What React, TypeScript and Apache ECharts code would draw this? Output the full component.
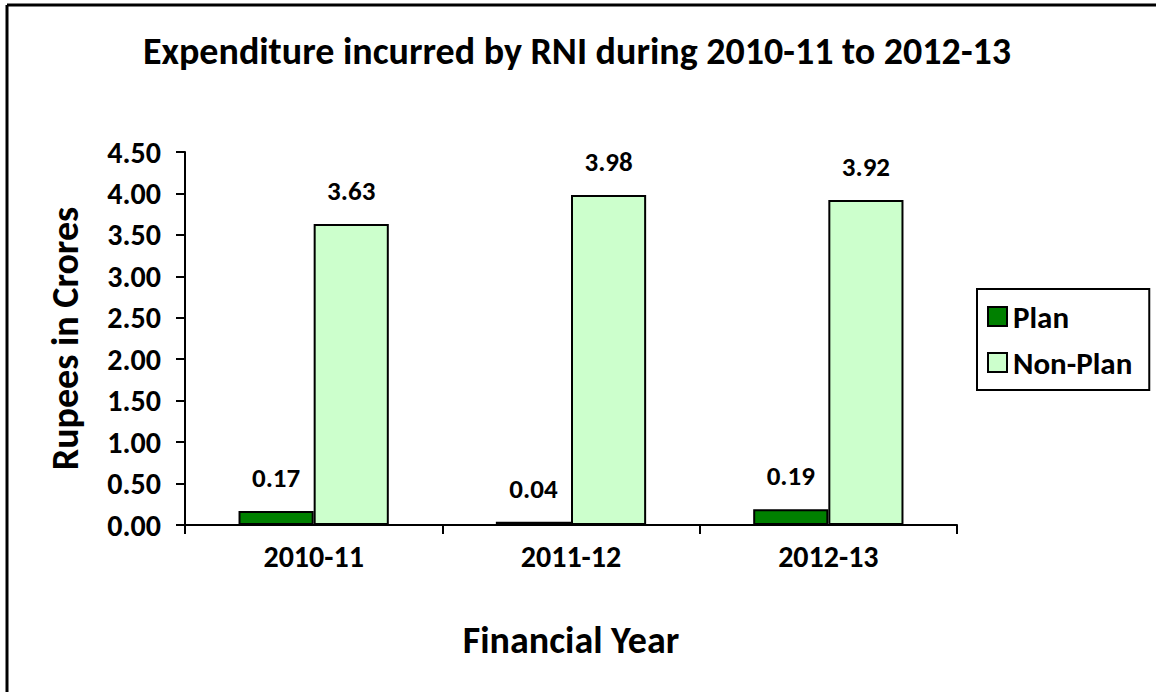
import React, { useEffect, useRef } from "react";
import * as echarts from "echarts";

const categories = ["2010-11", "2011-12", "2012-13"];
const planValues = [0.17, 0.04, 0.19];
const nonPlanValues = [3.63, 3.98, 3.92];
const seriesNames = ["Plan", "Non-Plan"];

const FONT = "Carlito, Calibri, Lato, 'Open Sans', sans-serif";

export default function App() {
  const ref = useRef<HTMLDivElement>(null);
  useEffect(() => {
    document.body.style.margin = "0";
    const chart = echarts.init(ref.current!, null, { renderer: "svg" });
    const labelStyle = {
      show: true,
      position: "top" as const,
      distance: 20,
      fontFamily: FONT,
      fontWeight: "bold" as const,
      fontSize: 27,
      color: "#000",
      formatter: (p: any) => Number(p.value).toFixed(2),
    };
    chart.setOption({
      animation: false,
      backgroundColor: "#fff",
      textStyle: { fontFamily: FONT },
      title: {
        text: "Expenditure incurred by RNI during 2010-11 to 2012-13",
        left: 572,
        textAlign: "center",
        top: 27,
        textStyle: { fontFamily: FONT, fontWeight: "bold", fontSize: 38, color: "#000" },
      },
      legend: {
        orient: "vertical",
        left: 977,
        top: 289,
        padding: [12, 17, 12, 10],
        itemGap: 15,
        itemWidth: 19,
        itemHeight: 19,
        itemStyle: { borderColor: "#000", borderWidth: 2 },
        borderColor: "#000",
        borderWidth: 2,
        icon: "rect",
        data: seriesNames,
        textStyle: { fontFamily: FONT, fontWeight: "bold", fontSize: 31, color: "#000", padding: [0, 0, 0, 1] },
      },
      grid: { left: 185, right: 199, top: 152, bottom: 167 },
      xAxis: {
        type: "category",
        data: categories,
        name: "Financial Year",
        nameLocation: "middle",
        nameGap: 96,
        nameTextStyle: { fontFamily: FONT, fontWeight: "bold", fontSize: 38, color: "#000" },
        axisLine: { lineStyle: { color: "#000", width: 2 } },
        axisTick: { show: true, length: 9, lineStyle: { color: "#000", width: 2 } },
        axisLabel: { margin: 16, fontFamily: FONT, fontWeight: "bold", fontSize: 30, color: "#000" },
      },
      yAxis: {
        type: "value",
        min: 0,
        max: 4.5,
        interval: 0.5,
        name: "Rupees in Crores",
        nameLocation: "middle",
        nameGap: 101,
        nameTextStyle: { fontFamily: FONT, fontWeight: "bold", fontSize: 38, color: "#000" },
        axisLine: { show: true, lineStyle: { color: "#000", width: 2 } },
        axisTick: { show: true, length: 9, lineStyle: { color: "#000", width: 2 } },
        splitLine: { show: false },
        axisLabel: {
          margin: 24,
          fontFamily: FONT,
          fontWeight: "bold",
          fontSize: 30,
          color: "#000",
          formatter: (v: number) => v.toFixed(2),
        },
      },
      series: [
        {
          name: seriesNames[0],
          type: "bar",
          data: planValues,
          barGap: "0%",
          barCategoryGap: "41.6%",
          itemStyle: { color: "#008000", borderColor: "#000", borderWidth: 2 },
          label: labelStyle,
        },
        {
          name: seriesNames[1],
          type: "bar",
          data: nonPlanValues,
          barGap: "0%",
          barCategoryGap: "41.6%",
          itemStyle: { color: "#CCFFCC", borderColor: "#000", borderWidth: 2 },
          label: labelStyle,
        },
      ],
      graphic: [
        { type: "line", shape: { x1: 7, y1: 5, x2: 1156, y2: 5 }, style: { stroke: "#000", lineWidth: 3 } },
        { type: "line", shape: { x1: 7, y1: 5, x2: 7, y2: 692 }, style: { stroke: "#000", lineWidth: 3 } },
      ],
    });
    return () => chart.dispose();
  }, []);
  return <div ref={ref} style={{ width: 1156, height: 692 }} />;
}
